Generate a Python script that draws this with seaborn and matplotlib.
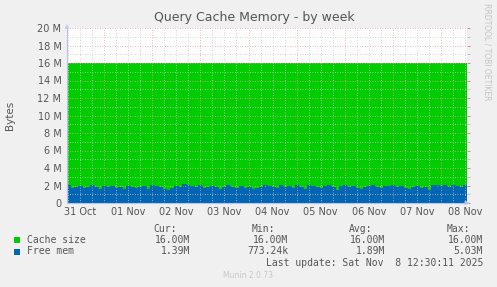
import numpy as np
import pandas as pd
import matplotlib
matplotlib.use("Agg")
import matplotlib.pyplot as plt
import matplotlib.dates as mdates
from matplotlib.ticker import MultipleLocator, FuncFormatter
from matplotlib.patches import Rectangle
import seaborn as sns

# ---------------- data ----------------
title = "Query Cache Memory - by week"
series_names = ["Cache size", "Free mem"]
series_colors = ["#00CC00", "#0066B3"]
cache_size_m = 16.00  # constant value (M)
free_mem_m = [
    2.1, 1.7, 1.8, 1.9, 1.7, 1.8, 2.0, 1.8, 1.6, 1.9, 1.8, 1.9, 1.7, 1.8, 1.6, 1.9, 1.8, 1.7, 1.8, 1.9,
    1.6, 2.0, 1.9, 1.8, 1.6, 1.5, 1.7, 1.9, 1.8, 2.2, 2.0, 1.9, 1.8, 2.0, 1.7, 1.8, 1.9, 1.8, 1.6, 1.8,
    2.0, 1.8, 1.7, 1.9, 1.7, 1.8, 1.6, 1.7, 1.8, 2.1, 1.9, 1.8, 1.7, 2.0, 1.8, 1.9, 1.7, 2.0, 1.8, 1.6,
    2.0, 1.9, 1.8, 1.7, 1.9, 2.0, 1.8, 1.5, 1.9, 2.0, 1.8, 1.9, 1.7, 1.6, 1.8, 1.9, 2.0, 1.8, 1.7, 1.9,
    1.9, 2.0, 1.8, 1.9, 1.7, 1.6, 1.8, 1.9, 1.7, 1.8, 1.5, 2.0, 2.1, 1.9, 2.0, 1.8, 2.1, 1.9, 1.8, 2.0, 1.9,
]
sample_start = "2025-10-31 05:00"
sample_freq = "2h"
view_start = "2025-10-31 05:24"
view_end = "2025-11-08 12:48"
y_ticks_major = [0, 2, 4, 6, 8, 10, 12, 14, 16, 18, 20]
legend_headers = ["Cur:", "Min:", "Avg:", "Max:"]
legend_cache = ["16.00M", "16.00M", "16.00M", "16.00M"]
legend_free = ["1.39M", "773.24k", "1.89M", "5.03M"]
last_update = "Last update: Sat Nov  8 12:30:11 2025"
footer = "Munin 2.0.73"
side_text = "RRDTOOL / TOBI OETIKER"

times = pd.date_range(sample_start, periods=len(free_mem_m), freq=sample_freq)
df = pd.DataFrame({"time": times, "free": free_mem_m, "cache": cache_size_m})

# ---------------- style ----------------
sns.set_style("white")
plt.rcParams["font.family"] = ["DejaVu Sans"]
BG = "#F0F0F0"
TXT = "#555555"

W, H = 497, 287
fig = plt.figure(figsize=(W / 100, H / 100), dpi=100, facecolor=BG)
L, R, T, B = 67, 466.5, 28, 203
ax = fig.add_axes([L / W, 1 - B / H, (R - L) / W, (B - T) / H])
ax.set_facecolor("white")

x0 = pd.Timestamp(view_start)
x1 = pd.Timestamp(view_end)

ax.fill_between(df["time"], 0, df["cache"], step="post", color=series_colors[0], lw=0, zorder=1)
ax.fill_between(df["time"], 0, df["free"], step="post", color=series_colors[1], lw=0, zorder=2)
sns.lineplot(data=df, x="time", y="free", drawstyle="steps-post", color=series_colors[1],
             lw=0.6, ax=ax, zorder=3, legend=False)

ax.set_xlim(x0, x1)
ax.set_ylim(0, 20)

# grids
ax.xaxis.set_major_locator(mdates.HourLocator(byhour=[0]))
ax.xaxis.set_minor_locator(mdates.HourLocator(byhour=[6, 12, 18]))
ax.xaxis.set_major_formatter(FuncFormatter(lambda v, p: ""))
def minor_fmt(v, p):
    d = mdates.num2date(v)
    return d.strftime("%d %b") if d.hour == 12 else ""
ax.xaxis.set_minor_formatter(FuncFormatter(minor_fmt))
ax.set_yticks(y_ticks_major)
ax.yaxis.set_minor_locator(MultipleLocator(1))
ax.yaxis.set_major_formatter(FuncFormatter(lambda v, p: "0" if v == 0 else f"{int(v)} M"))

ax.grid(True, which="major", color="#E8A0A0", lw=0.6, ls=(0, (1, 2)), zorder=4)
ax.grid(True, which="minor", color="#C8C8C8", lw=0.6, ls=(0, (1, 2)), zorder=4)
ax.set_axisbelow(False)

ax.tick_params(axis="both", which="major", length=2, width=0.6, color="#E07070",
               labelsize=7, labelcolor=TXT, pad=2)
ax.tick_params(axis="both", which="minor", length=2, width=0.6, color="#BBBBBB",
               labelsize=7, labelcolor=TXT, pad=3)
ax.tick_params(axis="y", which="both", right=True)
ax.tick_params(axis="x", which="minor", length=0)

for s in ["top", "right"]:
    ax.spines[s].set_visible(False)
for s in ["left", "bottom"]:
    ax.spines[s].set_color("#B8C0F0")
    ax.spines[s].set_linewidth(0.8)
    ax.spines[s].set_zorder(5)

ax.set_xlabel("")
ax.set_ylabel("")

# axis arrows
ax.annotate("", xy=(0, 1.04), xytext=(0, 0.99), xycoords="axes fraction",
            arrowprops=dict(arrowstyle="-|>", color="#C8CCF4", lw=0.8, mutation_scale=6),
            annotation_clip=False)
ax.annotate("", xy=(1.015, 0), xytext=(0.995, 0), xycoords="axes fraction",
            arrowprops=dict(arrowstyle="-|>", color="#C8CCF4", lw=0.8, mutation_scale=6),
            annotation_clip=False)

# texts
def fx(px):
    return px / W
def fy(py):
    return 1 - py / H

fig.text(fx(254), fy(18), title, ha="center", va="center", fontsize=9, color=TXT)
fig.text(fx(10), fy(115), "Bytes", rotation=90, ha="center", va="center", fontsize=7.5, color=TXT)
fig.text(fx(487), fy(52), side_text, rotation=270, ha="center", va="center",
         fontsize=5.5, color="#C4C4C4")

mono = dict(family="DejaVu Sans Mono", fontsize=7, color=TXT)
head_right = [177, 275, 372, 470]
val_right = [190, 288, 385, 483]
for xr, h in zip(head_right, legend_headers):
    fig.text(fx(xr), fy(228.5), h, ha="right", va="center", **mono)
rows = [(series_names[0], legend_cache, series_colors[0], 240),
        (series_names[1], legend_free, series_colors[1], 251.5)]
for name, vals, col, yy in rows:
    fig.patches.append(Rectangle((fx(14), fy(yy + 3)), 6 / W, 6 / H, transform=fig.transFigure,
                                 color=col, lw=0))
    fig.text(fx(27), fy(yy), name, ha="left", va="center", **mono)
    for xr, v in zip(val_right, vals):
        fig.text(fx(xr), fy(yy), v, ha="right", va="center", **mono)
fig.text(fx(483), fy(263.5), last_update, ha="right", va="center", **mono)
fig.text(fx(248), fy(276), footer, ha="center", va="center", fontsize=5.5, color="#C8C8C8")

fig.savefig("out.png", dpi=100, facecolor=BG)
